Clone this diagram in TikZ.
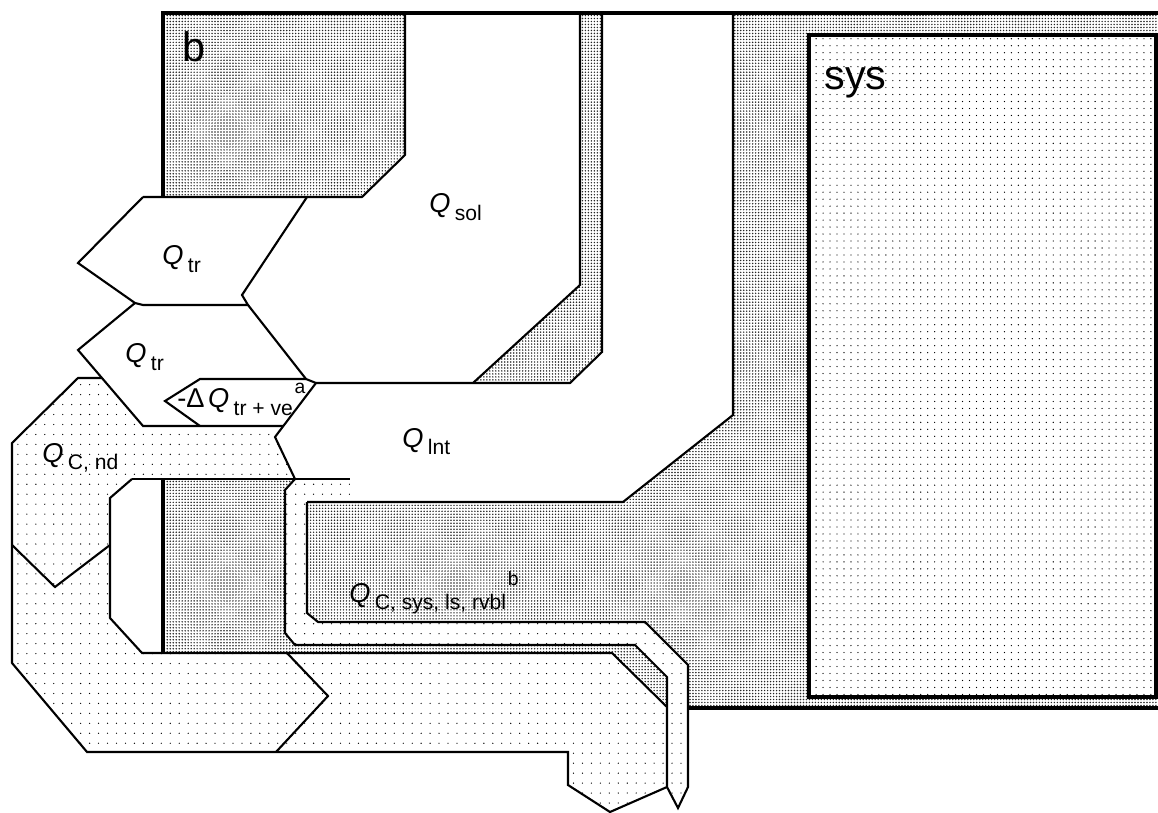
\documentclass[tikz,border=0pt]{standalone}
\usepackage{fontspec}
\setmainfont{Liberation Sans}
\usetikzlibrary{patterns}
\pgfdeclarepatternformonly{densedots}{\pgfqpoint{-0.85pt}{-0.85pt}}{\pgfqpoint{0.85pt}{0.85pt}}{\pgfqpoint{1.7pt}{1.7pt}}{\pgfpathcircle{\pgfqpoint{0pt}{0pt}}{0.47pt}\pgfusepath{fill}}
\pgfdeclarepatternformonly{sysdots}{\pgfqpoint{-1pt}{-1pt}}{\pgfqpoint{1pt}{1pt}}{\pgfqpoint{3.97pt}{3.97pt}}{\pgfpathcircle{\pgfqpoint{0pt}{0pt}}{0.38pt}\pgfusepath{fill}}
\pgfdeclarepatternformonly{lightdots}{\pgfqpoint{-1pt}{-1pt}}{\pgfqpoint{1pt}{1pt}}{\pgfqpoint{5.1pt}{5.67pt}}{\pgfpathcircle{\pgfqpoint{0pt}{0pt}}{0.38pt}\pgfusepath{fill}}
\newcommand{\subsz}{\fontsize{12}{13}\selectfont}
\newcommand{\supsz}{\fontsize{11}{12}\selectfont}
\newcommand{\Qs}[1]{\textit{Q}\hspace{2.5pt}\raisebox{-4.5pt}{\subsz #1}}
\tikzset{
  ln/.style={line width=1.2pt, line join=miter},
  thk/.style={line width=1.8pt},
  densefill/.style={pattern=densedots, pattern color=black!85},
  whitefill/.style={fill=white},
  lightfill/.style={preaction={fill=white}, pattern=lightdots, pattern color=black},
  sysfill/.style={preaction={fill=white}, pattern=sysdots, pattern color=black},
  lbl/.style={inner sep=0pt, anchor=base west, font=\fontsize{15.5}{17}\selectfont},
  big/.style={inner sep=0pt, anchor=base west, font=\fontsize{23.5}{25}\selectfont}
}
\begin{document}
\begin{tikzpicture}[x=0.02cm, y=-0.02cm]
\useasboundingbox (0,0) rectangle (1158,813);
% building (dense) area
\path[densefill] (163,13) rectangle (1170,708);
\path[sysfill] (809,35) rectangle (1156,697);
% white flows
\path[whitefill] (405,13) -- (580,13) -- (580,285) -- (473,383) -- (316,383) -- (306,379) -- (248,305) -- (242,295) -- (307,197) -- (362,197) -- (405,155) -- cycle;
\path[whitefill] (602,13) -- (733,13) -- (733,415) -- (623,502) -- (350,502) -- (350,479) -- (295,479) -- (275,437) -- (316,383) -- (570,383) -- (602,352) -- cycle;
\path[whitefill] (143,197) -- (307,197) -- (242,295) -- (248,305) -- (143,305) -- (135,303) -- (78,263) -- cycle;
\path[whitefill] (135,303) -- (143,305) -- (248,305) -- (306,379) -- (316,383) -- (283,426) -- (143,426) -- (78,350) -- cycle;
\path[whitefill] (132,479) -- (163,479) -- (163,653) -- (142,653) -- (110,618) -- (110,498) -- cycle;
% dotted flows
\path[lightfill] (12,443) -- (78,378) -- (102,378) -- (143,426) -- (283,426) -- (275,437) -- (295,479) -- (132,479) -- (110,498) -- (110,618) -- (142,653) -- (612,653) -- (667,707) -- (667,787) -- (610,812) -- (568,785) -- (568,752) -- (87,752) -- (12,663) -- cycle;
\path[lightfill] (295,479) -- (350,479) -- (350,502) -- (307,502) -- (307,613) -- (318,622) -- (645,622) -- (688,665) -- (688,787) -- (678,808) -- (667,787) -- (667,677) -- (635,645) -- (295,645) -- (285,633) -- (285,490) -- cycle;
% outlines
\draw[thk] (163,197) -- (163,13) -- (1170,13);
\draw[thk] (688,708) -- (1170,708);
\draw[thk] (163,479) -- (163,653);
\draw[ln] (143,197) -- (362,197) -- (405,155) -- (405,13);
\draw[ln] (580,13) -- (580,285) -- (473,383);
\draw[ln] (602,13) -- (602,352) -- (570,383) -- (316,383);
\draw[ln] (733,13) -- (733,415) -- (623,502) -- (307,502);
\draw[ln] (143,197) -- (78,263) -- (135,303) -- (143,305) -- (248,305) -- (242,295) -- (307,197);
\draw[ln] (135,303) -- (78,350) -- (143,426) -- (283,426);
\draw[ln] (248,305) -- (306,379) -- (316,383);
\draw[ln] (306,379) -- (200,379) -- (165,401) -- (200,426);
\draw[ln] (316,383) -- (275,437) -- (295,479);
\draw[ln] (102,378) -- (78,378) -- (12,443) -- (12,663) -- (87,752) -- (568,752) -- (568,785) -- (610,812) -- (667,787);
\draw[ln] (132,479) -- (350,479);
\draw[ln] (132,479) -- (110,498) -- (110,618) -- (142,653) -- (612,653) -- (667,707);
\draw[ln] (12,545) -- (55,587) -- (110,545);
\draw[ln] (287,653) -- (328,696) -- (276,752);
\draw[ln] (295,479) -- (285,490) -- (285,633) -- (295,645) -- (635,645) -- (667,677) -- (667,787) -- (678,808) -- (688,787) -- (688,665) -- (645,622) -- (318,622) -- (307,613) -- (307,502);
\draw[thk] (809,35) rectangle (1156,697);
% labels
\node[big] (lb) at (182,62) {b};
\node[big] (lsys) at (824,90) {sys};
\node[lbl] (qtra) at (162,265) {\Qs{tr}};
\node[lbl] (qtrb) at (125,363) {\Qs{tr}};
\node[lbl] (dq) at (177,408) {-Δ\hspace{2pt}\Qs{tr + ve}\hspace{1pt}\raisebox{8.5pt}{\supsz a}};
\node[lbl] (qsol) at (429,213) {\Qs{sol}};
\node[lbl] (qint) at (402,447) {\Qs{lnt}};
\node[lbl] (qcnd) at (42,462) {\Qs{C, nd}};
\node[lbl] (qcsys) at (349,602) {\Qs{C, sys, ls, rvbl}\hspace{1pt}\raisebox{9.5pt}{\supsz b}};
\end{tikzpicture}
\end{document}
